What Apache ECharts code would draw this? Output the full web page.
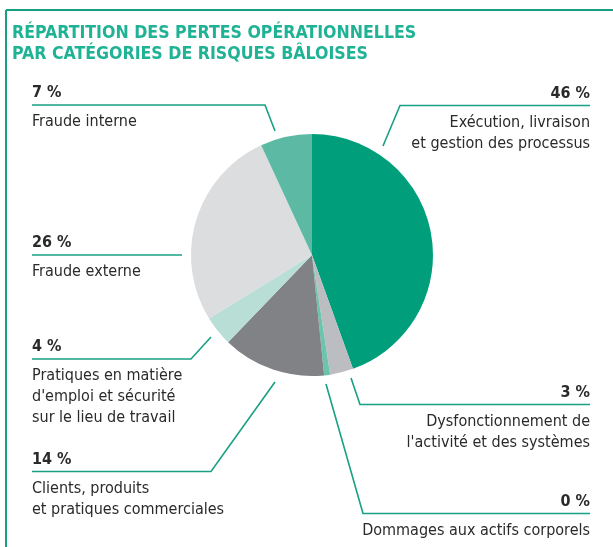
<!DOCTYPE html>
<html>
<head>
<meta charset="utf-8">
<script src="https://cdn.jsdelivr.net/npm/echarts@6/dist/echarts.min.js"></script>
<style>
  html, body { margin: 0; padding: 0; background: #fff; }
  #chart { width: 613px; height: 547px; }
</style>
</head>
<body>
<div id="chart"></div>
<script>
// catégories (ordre horaire depuis midi)
var categories = [
  'Exécution, livraison\net gestion des processus',
  "Dysfonctionnement de\nl'activité et des systèmes",
  'Dommages aux actifs corporels',
  'Clients, produits\net pratiques commerciales',
  "Pratiques en matière\nd'emploi et sécurité\nsur le lieu de travail",
  'Fraude externe',
  'Fraude interne'
];
// parts
var values = [44.5, 3.1, 0.8, 13.8, 4.0, 26.9, 6.9];
// pourcentages imprimés
var pctLabels = ['46 %', '3 %', '0 %', '14 %', '4 %', '26 %', '7 %'];

var colors = ['#009e7a', '#bcbdc0', '#6cc4ad', '#808285', '#b8ded5', '#dcdddf', '#5cbaa4'];
var lineColor = '#17a083';
var font = '"Liberation Sans Narrow", "DejaVu Sans Condensed", "Roboto", sans-serif';

// position des étiquettes (trait horizontal, coude, pointe vers le camembert)
var labelPos = [
  {side: 'right', lineY: 105.5, bend: 400, tip: [383, 146]},
  {side: 'right', lineY: 404.5, bend: 360, tip: [351, 378]},
  {side: 'right', lineY: 513.5, bend: 363, tip: [326, 384]},
  {side: 'left',  lineY: 471.5, bend: 211, tip: [275, 382]},
  {side: 'left',  lineY: 359,   bend: 191, tip: [211, 337]},
  {side: 'left',  lineY: 255,   bend: 182, tip: [182, 255]},
  {side: 'left',  lineY: 105,   bend: 265, tip: [275, 131]}
];
var leftX = 32, rightX = 590;

var chart = echarts.init(document.getElementById('chart'));

var pieData = [];
for (var i = 0; i < values.length; i++) {
  pieData.push({
    name: categories[i],
    value: values[i],
    itemStyle: {color: colors[i]},
    label: {align: labelPos[i].side}
  });
}

var option = {
  backgroundColor: '#fff',
  animation: false,
  title: {
    text: 'RÉPARTITION DES PERTES OPÉRATIONNELLES\nPAR CATÉGORIES DE RISQUES BÂLOISES',
    left: 7,
    top: 18,
    textStyle: {
      color: '#1fb295',
      fontFamily: font,
      fontWeight: 'bold',
      fontSize: 17.6,
      lineHeight: 21
    }
  },
  graphic: [
    {type: 'line', shape: {x1: 6, y1: 10, x2: 613, y2: 10}, style: {stroke: lineColor, lineWidth: 2}},
    {type: 'line', shape: {x1: 6, y1: 10, x2: 6, y2: 547}, style: {stroke: lineColor, lineWidth: 2}}
  ],
  series: [{
    type: 'pie',
    center: [312, 255],
    radius: 121,
    startAngle: 90,
    clockwise: true,
    avoidLabelOverlap: false,
    itemStyle: {borderWidth: 0},
    emphasis: {disabled: true},
    label: {
      show: true,
      position: 'outside',
      formatter: function (p) {
        var lines = p.name.split('\n').map(function (s) { return '{n|' + s + '}'; });
        return '{p|' + pctLabels[p.dataIndex] + '}\n' + lines.join('\n');
      },
      rich: {
        p: {fontFamily: font, fontWeight: 'bold', fontSize: 16, color: '#2b2a29', lineHeight: 37},
        n: {fontFamily: font, fontSize: 16, color: '#2b2a29', lineHeight: 21}
      }
    },
    labelLine: {
      show: true,
      lineStyle: {color: lineColor, width: 1.6}
    },
    labelLayout: function (params) {
      var L = labelPos[params.dataIndex];
      var ex = L.side === 'left' ? leftX : rightX;
      return {
        x: ex,
        y: L.lineY - 30.5,
        align: L.side,
        verticalAlign: 'top',
        labelLinePoints: [L.tip, [L.bend, L.lineY], [ex, L.lineY]]
      };
    },
    data: pieData
  }]
};
chart.setOption(option);
</script>
</body>
</html>
